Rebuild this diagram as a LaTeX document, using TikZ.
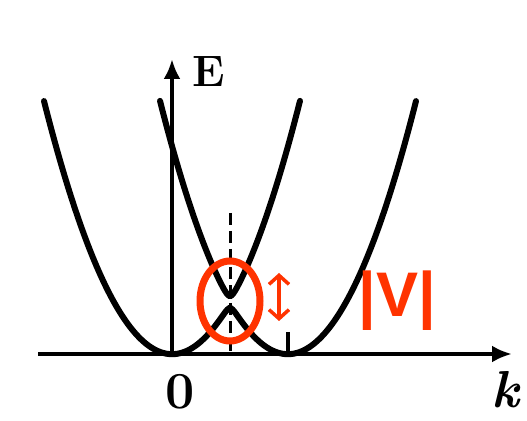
\documentclass[tikz,border=0pt]{standalone}
\usepackage{fontspec}
\newfontfamily\vfont{Liberation Sans}
\usetikzlibrary{arrows.meta,shapes.geometric}
\definecolor{redmark}{RGB}{255,51,0}
\begin{document}
\begin{tikzpicture}[x=10pt,y=10pt,
  declare function={
    eone(\t)=0.1544*\t*\t;
    etwo(\t)=0.1544*(\t-11.6)*(\t-11.6);
    emid(\t)=(eone(\t)+etwo(\t))/2;
    ehalf(\t)=sqrt(((eone(\t)-etwo(\t))/2)^2+0.36);
  },
  axis/.style={line width=4.5pt,-{Latex[length=20pt,width=17pt]}},
  band/.style={line width=6pt,line cap=round},
  guide/.style={line width=3pt,dash pattern=on 12pt off 6pt},
  redring/.style={draw=redmark,line width=7pt},
  gaparrow/.style={draw=redmark,line width=3.5pt,{Straight Barb[length=9pt,width=20pt]}-{Straight Barb[length=9pt,width=20pt]}},
  lbl/.style={inner sep=0pt,font=\fontsize{44}{44}\selectfont\bfseries}
]
\useasboundingbox (0,0) rectangle (52.7,42);
\fill[white] (0,0) rectangle (52.7,42);
\begin{scope}[shift={(17.2,6.6)}]
  \coordinate (xs) at (-13.4,0);
  \coordinate (xe) at (34.0,0);
  \coordinate (ys) at (0,0);
  \coordinate (ye) at (0,29.5);
  \draw[band] plot[domain=-12.8:24.4,samples=220,smooth] (\x,{emid(\x)-ehalf(\x)});
  \draw[band] plot[domain=-1.2:12.8,samples=120,smooth] (\x,{emid(\x)+ehalf(\x)});
  \coordinate (gt) at (5.8,14.1);
  \coordinate (gb) at (5.8,0);
  \draw[guide] (gt) -- (gb);
  \coordinate (tt) at (11.6,2.2);
  \coordinate (tb) at (11.6,0);
  \draw[line width=4.5pt] (tt) -- (tb);
  \draw[axis] (xs) -- (xe);
  \draw[axis] (ys) -- (ye);
\end{scope}
\node[lbl] (E) at (20.9,34.8) {E};
\node[lbl,font=\fontsize{52}{52}\selectfont\bfseries] (zero) at (18.0,2.8) {0};
\node[lbl,font=\fontsize{52}{52}\selectfont\bfseries\itshape] (k) at (50.5,3.0) {k};
\node[redring,ellipse,minimum width=60pt,minimum height=80pt,inner sep=0pt] (ring) at (23.0,11.9) {};
\coordinate (at) at (27.9,14.7);
\coordinate (ab) at (27.9,9.9);
\draw[gaparrow] (at) -- (ab);
\node[inner sep=0pt,text=redmark,font=\vfont\bfseries\fontsize{63}{63}\selectfont] (V) at (39.7,11.9) {|V|};
\end{tikzpicture}
\end{document}
